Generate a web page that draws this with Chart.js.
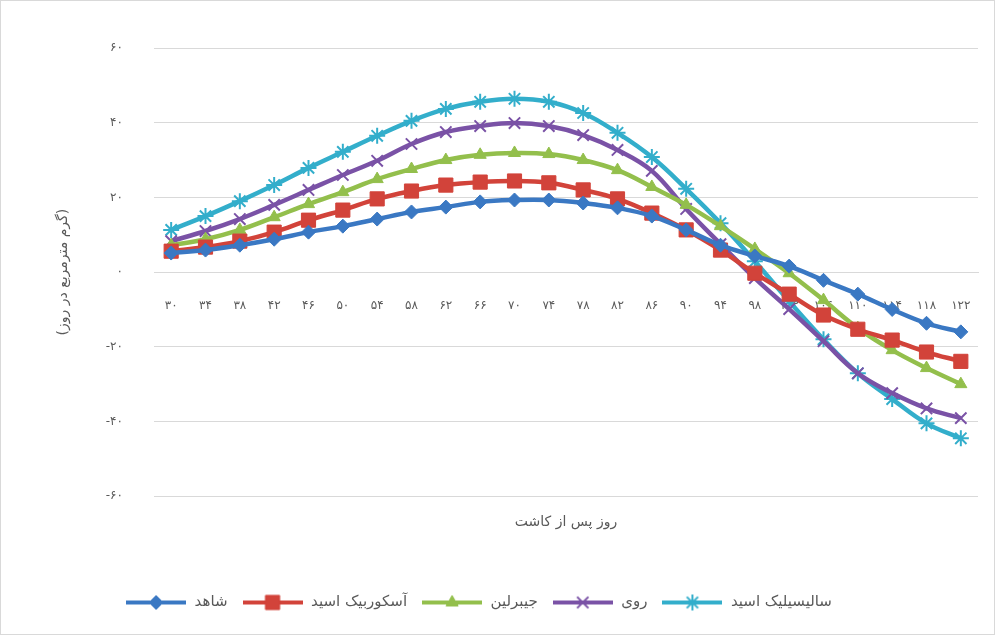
<!DOCTYPE html>
<html lang="fa">
<head>
<meta charset="utf-8">
<script src="https://cdn.jsdelivr.net/npm/chart.js@4.4.1/dist/chart.umd.min.js"></script>
<style>
  html, body { margin: 0; padding: 0; background: #fff; }
  #wrap { width: 993px; height: 633px; border: 1px solid #d9d9d9; }
  canvas { display: block; }
</style>
</head>
<body>
<div id="wrap"><canvas id="chart" width="993" height="633"></canvas></div>
<script>
// days after planting (x categories)
const days = ['۳۰','۳۴','۳۸','۴۲','۴۶','۵۰','۵۴','۵۸','۶۲','۶۶','۷۰','۷۴','۷۸','۸۲','۸۶','۹۰','۹۴','۹۸','۱۰۲','۱۰۶','۱۱۰','۱۱۴','۱۱۸','۱۲۲'];

// series values
const control     = [5.1, 5.9, 7.2, 8.8, 10.7, 12.3, 14.2, 16.1, 17.4, 18.8, 19.3, 19.3, 18.5, 17.2, 15.0, 11.3, 7.2, 4.3, 1.6, -2.2, -5.9, -10.0, -13.7, -16.0];
const ascorbic    = [5.6, 6.7, 8.3, 10.7, 13.9, 16.6, 19.6, 21.7, 23.3, 24.1, 24.4, 23.9, 22.0, 19.6, 15.8, 11.3, 5.9, -0.3, -5.9, -11.5, -15.3, -18.2, -21.4, -23.9];
const gibberellin = [7.2, 8.8, 11.3, 14.7, 18.2, 21.4, 24.9, 27.6, 30.0, 31.4, 31.9, 31.6, 30.0, 27.3, 22.8, 18.0, 12.3, 6.2, -0.3, -7.5, -15.0, -20.9, -25.7, -30.0];
const zinc        = [8.3, 11.0, 14.2, 18.0, 22.0, 26.0, 29.8, 34.3, 37.5, 39.1, 39.9, 39.1, 36.7, 32.7, 27.1, 16.9, 7.5, -1.6, -9.9, -18.5, -27.1, -32.4, -36.5, -39.1];
const salicylic   = [11.3, 15.0, 19.0, 23.3, 27.9, 32.2, 36.5, 40.5, 43.7, 45.6, 46.4, 45.6, 42.6, 37.3, 30.8, 22.3, 13.1, 2.9, -7.8, -18.0, -27.1, -34.0, -40.5, -44.5];

const seriesNames = ['شاهد', 'آسکوربیک اسید', 'جیبرلین', 'روی', 'سالیسیلیک اسید'];
const yTitle = '(گرم مترمربع در روز)';
const xTitle = 'روز پس از کاشت';

const faDigits = '۰۱۲۳۴۵۶۷۸۹';
function toFa(n) {
    return String(n).replace(/\d/g, d => faDigits[d]);
}

const textColor = '#595959';
const gridColor = '#d9d9d9';
const fontFamily = "'DejaVu Sans', 'Noto Sans', sans-serif";

function makeSeries(label, data, color, style, radius, bw) {
    return {
        label: label,
        data: data,
        borderColor: color,
        backgroundColor: color,
        borderWidth: 4.5,
        tension: 0.4,
        pointStyle: style,
        pointRadius: radius,
        pointBorderWidth: bw,
        pointBackgroundColor: color,
        pointBorderColor: color,
        xAxisID: 'x',
        yAxisID: 'y'
    };
}

const datasets = [
    makeSeries(seriesNames[0], control, '#3A78C3', 'rectRot', 7, 1),
    makeSeries(seriesNames[1], ascorbic, '#D2433A', 'rect', 10, 1),
    makeSeries(seriesNames[2], gibberellin, '#93BF4C', 'triangle', 7, 1),
    makeSeries(seriesNames[3], zinc, '#7A52A6', 'crossRot', 8, 2),
    makeSeries(seriesNames[4], salicylic, '#33AECB', 'star', 8, 2)
];

// legend swatch: short line with the marker in the middle
function legendSwatch(ds) {
    const c = document.createElement('canvas');
    c.width = 60;
    c.height = 18;
    const g = c.getContext('2d');
    g.strokeStyle = ds.borderColor;
    g.lineWidth = 4;
    g.beginPath();
    g.moveTo(0, 9);
    g.lineTo(60, 9);
    g.stroke();
    g.fillStyle = ds.pointBackgroundColor;
    g.strokeStyle = ds.pointBorderColor;
    g.lineWidth = ds.pointBorderWidth;
    if (Chart.helpers && Chart.helpers.drawPoint) {
        Chart.helpers.drawPoint(g, {
            pointStyle: ds.pointStyle,
            radius: ds.pointRadius,
            rotation: 0,
            borderWidth: ds.pointBorderWidth
        }, 30, 9);
    }
    return c;
}

// the legend in the original sits a bit left of centre
const legendShift = {
    id: 'legendShift',
    afterLayout(ch) {
        if (ch.legend) ch.legend.right -= 70;
    }
};

const ctx = document.getElementById('chart').getContext('2d');
const chart = new Chart(ctx, {
    type: 'line',
    data: {
        labels: days,
        datasets: datasets
    },
    plugins: [legendShift],
    options: {
        responsive: false,
        animation: false,
        layout: {
            padding: { left: 48, right: 16, top: 47, bottom: 14 }
        },
        scales: {
            y: {
                min: -60,
                max: 60,
                afterFit: (s) => { s.width = 105; },
                ticks: {
                    stepSize: 20,
                    padding: 31,
                    color: textColor,
                    font: { family: fontFamily, size: 12 },
                    callback: (v) => toFa(v)
                },
                grid: { color: gridColor, lineWidth: 1, drawTicks: false },
                border: { display: false },
                title: {
                    display: true,
                    text: yTitle,
                    color: textColor,
                    font: { family: fontFamily, size: 14 },
                    padding: { top: 6, bottom: 4 }
                }
            },
            x: {
                position: { y: 0 },
                offset: true,
                afterFit: (s) => { s.paddingLeft = 0; s.paddingRight = 0; },
                ticks: {
                    autoSkip: false,
                    maxRotation: 0,
                    minRotation: 0,
                    padding: 27,
                    color: textColor,
                    font: { family: fontFamily, size: 12 }
                },
                grid: { display: false, drawTicks: false },
                border: { color: gridColor, width: 1 }
            },
            x2: {
                type: 'category',
                labels: days,
                position: 'bottom',
                afterFit: (s) => { s.paddingLeft = 0; s.paddingRight = 0; },
                ticks: { display: false },
                grid: { display: false, drawTicks: false },
                border: { display: false },
                title: {
                    display: true,
                    text: xTitle,
                    color: textColor,
                    font: { family: fontFamily, size: 14 },
                    padding: { top: 18, bottom: 50 }
                }
            }
        },
        plugins: {
            legend: {
                position: 'bottom',
                labels: {
                    usePointStyle: true,
                    pointStyleWidth: 62,
                    color: textColor,
                    font: { family: fontFamily, size: 15 },
                    padding: 14,
                    generateLabels: (ch) => ch.data.datasets.map((ds, i) => ({
                        text: ds.label,
                        fillStyle: ds.backgroundColor,
                        strokeStyle: ds.borderColor,
                        lineWidth: 0,
                        pointStyle: legendSwatch(ds),
                        hidden: false,
                        datasetIndex: i,
                        fontColor: textColor
                    }))
                }
            },
            tooltip: { enabled: false }
        }
    }
});
</script>
</body>
</html>
